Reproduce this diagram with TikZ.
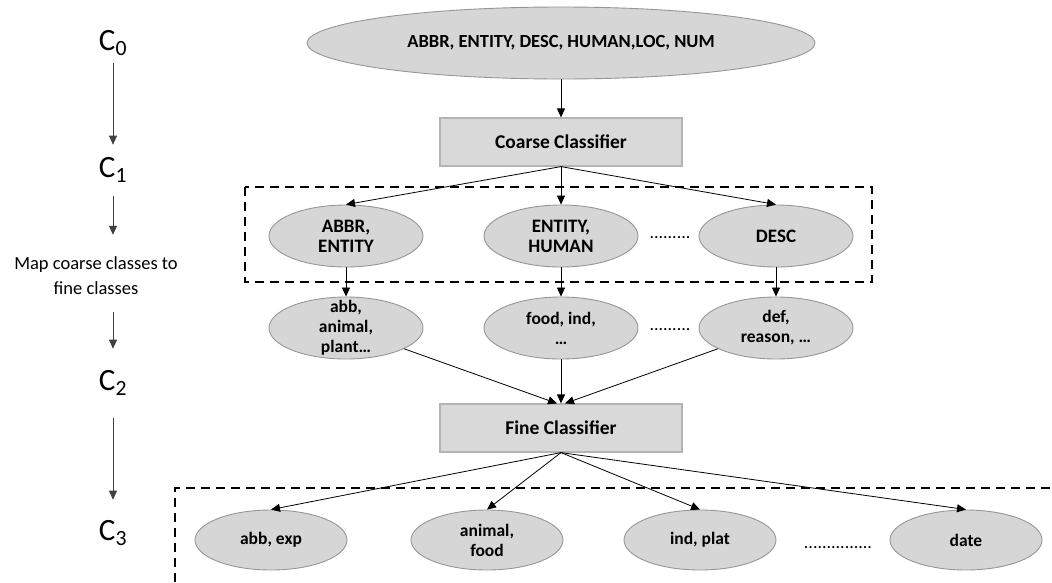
\documentclass[tikz,border=0pt]{standalone}
\usepackage{fontspec}
\setmainfont{Carlito}
\usetikzlibrary{shapes.geometric,arrows.meta}
\definecolor{ovalfill}{HTML}{D6D6D6}
\definecolor{ovalline}{HTML}{969696}
\definecolor{boxfill}{HTML}{D9D9D9}
\definecolor{boxline}{HTML}{B4B4B4}
\begin{document}
\begin{tikzpicture}[x=1pt,y=-1pt,
  oval/.style={ellipse, draw=ovalline, fill=ovalfill, line width=0.9pt, inner sep=0pt},
  ovaltext/.style={font=\fontsize{19}{20}\selectfont\bfseries, align=center, inner sep=0pt},
  smalltext/.style={font=\fontsize{17.5}{20}\selectfont\bfseries, align=center, inner sep=0pt},
  classbox/.style={rectangle, draw=boxline, fill=boxfill, line width=1.2pt,
    minimum width=242pt, minimum height=48pt, inner sep=0pt,
    font=\fontsize{19.5}{22}\selectfont\bfseries},
  arr/.style={-{Triangle[length=9pt,width=8pt]}, line width=0.8pt, black},
  sidearr/.style={-{Triangle[length=9pt,width=8pt]}, line width=0.8pt, black!75},
  level/.style={font=\fontsize{31}{36}\selectfont, inner sep=0pt, anchor=base},
  dashbox/.style={dash pattern=on 9pt off 6pt, line width=2.4pt, black},
  etc/.style={font=\fontsize{18}{20}\selectfont, inner sep=0pt, anchor=base}
]
\useasboundingbox (0,0) rectangle (1052,582);

% level labels on the left
\node[level] (c0) at (113,50) {C\textsubscript{0}};
\node[level] (c1) at (113,177) {C\textsubscript{1}};
\node[align=center, inner sep=0pt, font=\fontsize{18.5}{25}\selectfont] (map) at (96,276)
  {Map coarse classes to\\fine classes};
\node[level] (c2) at (113,390) {C\textsubscript{2}};
\node[level] (c3) at (113,540) {C\textsubscript{3}};

\draw[sidearr, shorten <=7pt, shorten >=12pt] (c0.south) -- (c1.north);
\draw[sidearr, shorten <=13pt, shorten >=22pt] (c1.south) -- (c1.south |- map.north);
\draw[sidearr, shorten <=17pt, shorten >=21pt] (c2.north |- map.south) -- (c2.north);
\draw[sidearr, shorten <=22pt, shorten >=20pt] (c2.south) -- (c3.north);

% dashed groups
\draw[dashbox] (245,187) rectangle (872,282);
\draw[dashbox] (175,582) -- (175,488) -- (1052,488);

% coarse stage
\node[oval, minimum width=508pt, minimum height=72pt,
  label={[ovaltext, font=\fontsize{18.5}{22}\selectfont\bfseries]center:ABBR, ENTITY, DESC, HUMAN,LOC, NUM}]
  (top) at (561,43) {};
\node[classbox] (coarse) at (561,142) {Coarse Classifier};

\node[oval, minimum width=154pt, minimum height=62pt, label={[ovaltext]center:{ABBR,\\ENTITY}}] (a1) at (346,236) {};
\node[oval, minimum width=154pt, minimum height=62pt, label={[ovaltext]center:{ENTITY,\\HUMAN}}] (a2) at (561,236) {};
\node[oval, minimum width=154pt, minimum height=62pt, label={[ovaltext]center:{DESC}}] (a3) at (776,236) {};
\node[etc] (adots) at (670,238) {.........};

% mapped fine classes
\node[oval, minimum width=154pt, minimum height=62pt, label={[smalltext]center:{abb,\\animal,\\plant…}}] (b1) at (346,328) {};
\node[oval, minimum width=154pt, minimum height=62pt, label={[smalltext]center:{food, ind,\\…}}] (b2) at (561,328) {};
\node[oval, minimum width=154pt, minimum height=62pt, label={[smalltext]center:{def,\\reason, …}}] (b3) at (776,328) {};
\node[etc] (bdots) at (670,330) {.........};

\node[classbox] (fine) at (561,428) {Fine Classifier};

% final fine classes
\node[oval, minimum width=152pt, minimum height=60pt, label={[smalltext]center:{abb, exp}}] (d1) at (271,540) {};
\node[oval, minimum width=152pt, minimum height=60pt, label={[smalltext]center:{animal,\\food}}] (d2) at (487,540) {};
\node[oval, minimum width=152pt, minimum height=60pt, label={[smalltext]center:{ind, plat}}] (d3) at (700,540) {};
\node[oval, minimum width=152pt, minimum height=60pt, label={[smalltext]center:{date}}] (d4) at (966,540) {};
\node[etc] (ddots) at (838,548) {...............};

% connectors
\draw[arr] (top.south) -- (coarse.north);
\draw[arr] (coarse.south) -- (a1.north);
\draw[arr] (coarse.south) -- (a2.north);
\draw[arr] (coarse.south) -- (a3.north);
\draw[arr] (a1.south) -- (b1.north);
\draw[arr] (a2.south) -- (b2.north);
\draw[arr] (a3.south) -- (b3.north);
\draw[arr] (b1) -- ([xshift=-4pt]fine.north);
\draw[arr] (b2.south) -- (fine.north);
\draw[arr] (b3) -- ([xshift=4pt]fine.north);
\draw[arr] (fine.south) -- (d1.north);
\draw[arr] (fine.south) -- (d2.north);
\draw[arr] (fine.south) -- (d3.north);
\draw[arr] (fine.south) -- (d4.north);
\end{tikzpicture}
\end{document}
